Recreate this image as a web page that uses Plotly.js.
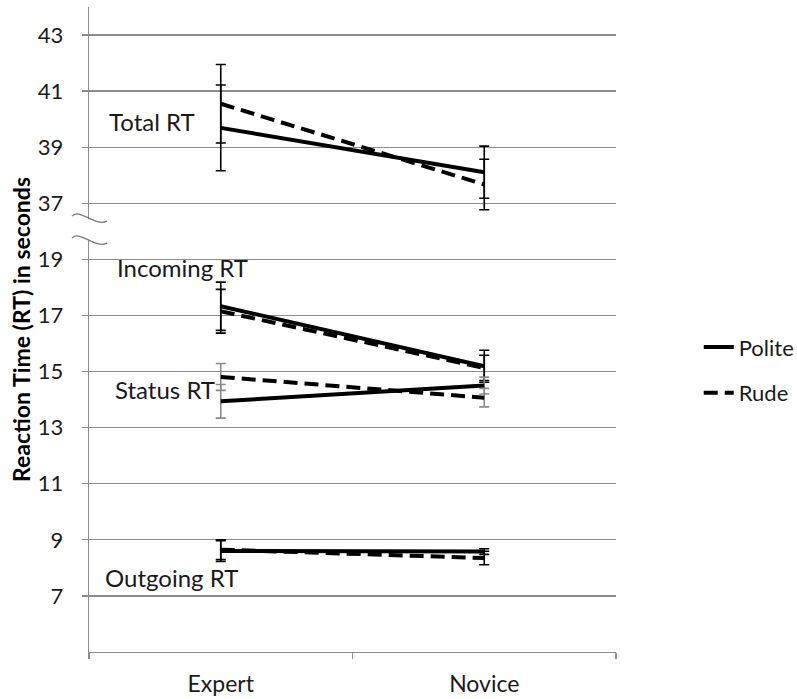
<!DOCTYPE html>
<html>
<head>
<meta charset="utf-8">
<script src="https://cdn.plot.ly/plotly-3.0.1.min.js"></script>
<style>html,body{margin:0;padding:0;background:#fff;}#chart{width:797px;height:699px;}</style>
</head>
<body>
<div id="chart"></div>
<script>
// ---- data (seconds) ----
const categories = ['Expert', 'Novice'];
const seriesNames = ['Polite', 'Rude'];
const measureLabels = ['Total RT', 'Incoming RT', 'Status RT', 'Outgoing RT'];

const totalPolite = [39.69, 38.11];
const totalPoliteErr = [1.53, 0.93];
const totalRude = [40.55, 37.67];
const totalRudeErr = [1.40, 0.90];

const incomingPolite = [17.33, 15.19];
const incomingPoliteErr = [0.86, 0.57];
const incomingRude = [17.15, 15.13];
const incomingRudeErr = [0.78, 0.45];

const statusPolite = [13.94, 14.50];
const statusPoliteErr = [0.60, 0.30];
const statusRude = [14.81, 14.07];
const statusRudeErr = [0.48, 0.33];

const outgoingPolite = [8.60, 8.58];
const outgoingPoliteErr = [0.37, 0.10];
const outgoingRude = [8.65, 8.35];
const outgoingRudeErr = [0.35, 0.24];

const tickLabels = ['7', '9', '11', '13', '15', '17', '19', '37', '39', '41', '43'];

// ---- broken axis: values above the break are drawn 16 s lower ----
const BREAK_SHIFT = 16;
function toAxis(v) { return v >= 30 ? v - BREAK_SHIFT : v; }

const measures = [
  {label: measureLabels[0], p: totalPolite, pe: totalPoliteErr, r: totalRude, re: totalRudeErr, ec: '#000000'},
  {label: measureLabels[1], p: incomingPolite, pe: incomingPoliteErr, r: incomingRude, re: incomingRudeErr, ec: '#000000'},
  {label: measureLabels[2], p: statusPolite, pe: statusPoliteErr, r: statusRude, re: statusRudeErr, ec: '#8a8a8a'},
  {label: measureLabels[3], p: outgoingPolite, pe: outgoingPoliteErr, r: outgoingRude, re: outgoingRudeErr, ec: '#000000'}
];

const traces = [];
measures.forEach((m, i) => {
  [[m.r, m.re, seriesNames[1], '14px,7px'], [m.p, m.pe, seriesNames[0], 'solid']].forEach(([vals, errs, name, dash]) => {
    traces.push({
      type: 'scatter', mode: 'lines',
      x: categories, y: vals.map(toAxis),
      name: name, legendgroup: name,
      showlegend: i === 0,
      legendrank: name === seriesNames[0] ? 1 : 2,
      line: {color: '#000000', width: 4, dash: dash},
      error_y: {type: 'data', array: errs, visible: true, color: m.ec, thickness: 1.6, width: 5},
      hoverinfo: 'skip'
    });
  });
});

const F = 'Lato, "Liberation Sans", sans-serif';
const gridC = '#8c8c8c';

const labelPos = [
  {x: -0.43, y: 39.93},
  {x: -0.40, y: 18.70},
  {x: -0.41, y: 14.36},
  {x: -0.445, y: 7.67}
];
const annotations = measureLabels.map((t, i) => ({
  text: t, x: labelPos[i].x, y: toAxis(labelPos[i].y), xref: 'x', yref: 'y',
  xanchor: 'left', yanchor: 'middle', showarrow: false,
  font: {family: F, size: 24, color: '#1a1a1a'}
}));

const shapes = [
  {type: 'rect', xref: 'paper', yref: 'paper', xsizemode: 'pixel', ysizemode: 'pixel',
   xanchor: 0, yanchor: 0.6524, x0: -4, x1: 4, y0: -9, y1: 12,
   fillcolor: '#ffffff', line: {width: 0}, layer: 'above'},
  {type: 'path', xref: 'paper', yref: 'paper', xsizemode: 'pixel', ysizemode: 'pixel',
   xanchor: 0, yanchor: 0.6524, path: 'M -17 15 C -10 24, 6 4, 18 10',
   line: {color: '#7a7a7a', width: 1.3}, layer: 'above'},
  {type: 'path', xref: 'paper', yref: 'paper', xsizemode: 'pixel', ysizemode: 'pixel',
   xanchor: 0, yanchor: 0.6524, path: 'M -17 -7 C -10 2, 6 -18, 18 -12',
   line: {color: '#7a7a7a', width: 1.3}, layer: 'above'}
];

const layout = {
  width: 797, height: 699,
  margin: {l: 89, r: 181, t: 7, b: 47, pad: 0, autoexpand: false},
  paper_bgcolor: '#ffffff', plot_bgcolor: '#ffffff',
  font: {family: F, color: '#1a1a1a'},
  showlegend: true,
  legend: {x: 1.157, xanchor: 'left', y: 0.505, yanchor: 'top',
           font: {family: F, size: 22, color: '#1a1a1a'},
           traceorder: 'grouped', tracegroupgap: 14, bgcolor: 'rgba(0,0,0,0)'},
  xaxis: {
    type: 'category', categoryorder: 'array', categoryarray: categories,
    range: [-0.5, 1.5], showgrid: false, zeroline: false,
    showline: true, linecolor: gridC, linewidth: 1.3,
    ticks: 'outside', tickson: 'boundaries', ticklen: 6, tickcolor: gridC, tickwidth: 1.3,
    tickfont: {family: F, size: 23, color: '#1a1a1a'}, ticklabelstandoff: 11,
    fixedrange: true
  },
  yaxis: {
    range: [5, 28], tickmode: 'array',
    tickvals: tickLabels.map(Number).map(toAxis), ticktext: tickLabels,
    showgrid: true, gridcolor: gridC, gridwidth: 1.3, zeroline: false,
    showline: true, linecolor: gridC, linewidth: 1.3,
    ticks: 'outside', ticklen: 6, tickcolor: gridC, tickwidth: 1.3,
    tickfont: {family: F, size: 22, color: '#1a1a1a'}, ticklabelstandoff: 14,
    title: {text: 'Reaction Time (RT) in seconds', font: {family: F, size: 23, color: '#000000', weight: 'bold'}, standoff: 0},
    fixedrange: true
  },
  annotations: annotations,
  shapes: shapes
};

Plotly.newPlot('chart', traces, layout, {displayModeBar: false, staticPlot: true});
</script>
</body>
</html>
